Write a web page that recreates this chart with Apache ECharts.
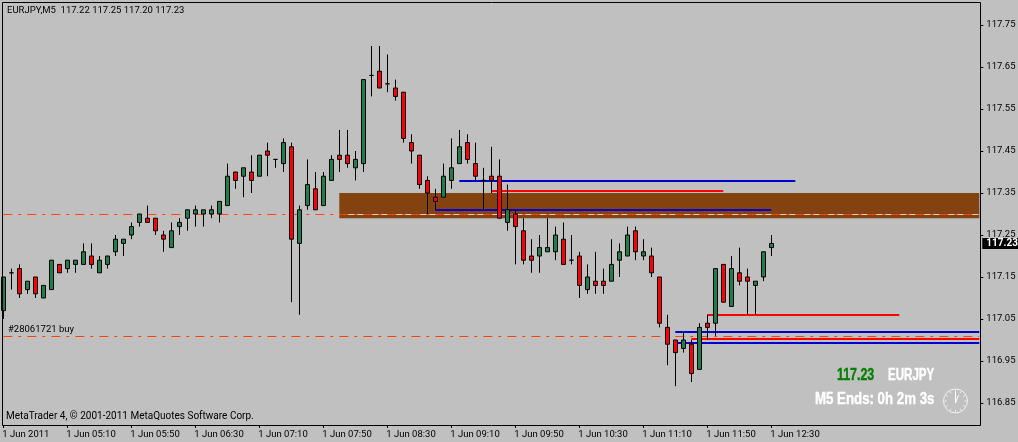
<!DOCTYPE html>
<html>
<head>
<meta charset="utf-8">
<title>EURJPY,M5</title>
<style>
  html, body { margin: 0; padding: 0; background: #c0c0c0; }
  #chart { width: 1018px; height: 442px; }
</style>
<script src="https://cdn.jsdelivr.net/npm/echarts@6/dist/echarts.min.js"></script>
</head>
<body>
<div id="chart"></div>
<script>
// One label every 8 bars, bar 0 is 04:30
const timeLabels = ['1 Jun 2011', '1 Jun 05:10', '1 Jun 05:50', '1 Jun 06:30', '1 Jun 07:10', '1 Jun 07:50', '1 Jun 08:30',
  '1 Jun 09:10', '1 Jun 09:50', '1 Jun 10:30', '1 Jun 11:10', '1 Jun 11:50', '1 Jun 12:30'];
const priceTicks = [117.75, 117.65, 117.55, 117.45, 117.35, 117.25, 117.15, 117.05, 116.95, 116.85];

const opens = [
  117.07, 117.16, 117.17, 117.12, 117.15, 117.10, 117.12, 117.18, 117.17, 117.18,
  117.18, 117.20, 117.16, 117.18, 117.21, 117.23, 117.25, 117.28, 117.29, 117.29,
  117.25, 117.22, 117.27, 117.29, 117.30, 117.30, 117.30, 117.30, 117.32, 117.40,
  117.39, 117.40, 117.39, 117.45, 117.43, 117.42, 117.46, 117.23, 117.32, 117.36,
  117.32, 117.38, 117.44, 117.44, 117.41, 117.42, 117.63, 117.64, 117.61, 117.60,
  117.59, 117.47, 117.44, 117.38, 117.34, 117.34, 117.38, 117.42, 117.47, 117.42,
  117.38, 117.39, 117.39, 117.28, 117.30, 117.26, 117.20, 117.20, 117.21, 117.21,
  117.24, 117.19, 117.20, 117.12, 117.14, 117.14, 117.14, 117.19, 117.20, 117.26,
  117.20, 117.20, 117.15, 117.03, 117.00, 116.98, 116.99, 116.93, 117.04, 117.04,
  117.18, 117.08, 117.16, 117.15, 117.13, 117.15, 117.22];
const closes = [
  117.15, 117.16, 117.11, 117.14, 117.11, 117.13, 117.19, 117.16, 117.19, 117.19,
  117.21, 117.18, 117.19, 117.20, 117.24, 117.24, 117.27, 117.30, 117.28, 117.26,
  117.24, 117.26, 117.28, 117.31, 117.31, 117.31, 117.31, 117.33, 117.39, 117.38,
  117.41, 117.38, 117.44, 117.44, 117.43, 117.47, 117.24, 117.31, 117.37, 117.31,
  117.39, 117.43, 117.43, 117.42, 117.43, 117.62, 117.63, 117.60, 117.61, 117.58,
  117.48, 117.45, 117.37, 117.35, 117.33, 117.39, 117.41, 117.46, 117.43, 117.39,
  117.38, 117.38, 117.29, 117.31, 117.27, 117.19, 117.19, 117.22, 117.22, 117.25,
  117.18, 117.19, 117.13, 117.15, 117.13, 117.13, 117.18, 117.21, 117.25, 117.21,
  117.21, 117.16, 117.04, 116.99, 116.97, 117.00, 116.92, 117.03, 117.03, 117.17,
  117.09, 117.17, 117.14, 117.14, 117.14, 117.21, 117.23];
const highs = [
  117.15, 117.17, 117.18, 117.14, 117.15, 117.13, 117.19, 117.18, 117.19, 117.19,
  117.23, 117.23, 117.20, 117.20, 117.25, 117.24, 117.28, 117.30, 117.32, 117.29,
  117.26, 117.28, 117.29, 117.31, 117.32, 117.31, 117.32, 117.33, 117.42, 117.40,
  117.41, 117.44, 117.44, 117.47, 117.43, 117.48, 117.47, 117.32, 117.43, 117.40,
  117.40, 117.44, 117.50, 117.50, 117.45, 117.62, 117.70, 117.70, 117.68, 117.62,
  117.59, 117.49, 117.44, 117.39, 117.36, 117.42, 117.48, 117.50, 117.49, 117.47,
  117.41, 117.46, 117.43, 117.37, 117.31, 117.29, 117.24, 117.25, 117.29, 117.27,
  117.28, 117.25, 117.21, 117.18, 117.21, 117.17, 117.24, 117.23, 117.27, 117.27,
  117.24, 117.22, 117.15, 117.06, 117.00, 117.02, 117.00, 117.04, 117.06, 117.17,
  117.18, 117.20, 117.22, 117.17, 117.14, 117.21, 117.25];
const lows = [
  117.05, 117.12, 117.10, 117.11, 117.10, 117.10, 117.12, 117.16, 117.16, 117.16,
  117.18, 117.17, 117.16, 117.17, 117.20, 117.20, 117.24, 117.27, 117.28, 117.25,
  117.21, 117.22, 117.25, 117.26, 117.27, 117.27, 117.29, 117.28, 117.32, 117.36,
  117.34, 117.35, 117.39, 117.39, 117.41, 117.40, 117.09, 117.06, 117.31, 117.31,
  117.32, 117.38, 117.40, 117.41, 117.38, 117.40, 117.58, 117.60, 117.59, 117.57,
  117.47, 117.42, 117.36, 117.30, 117.31, 117.34, 117.36, 117.42, 117.42, 117.38,
  117.31, 117.35, 117.29, 117.26, 117.18, 117.18, 117.16, 117.16, 117.21, 117.19,
  117.18, 117.18, 117.10, 117.11, 117.11, 117.11, 117.14, 117.15, 117.20, 117.19,
  117.19, 117.15, 117.03, 116.94, 116.89, 116.97, 116.90, 116.93, 117.00, 117.01,
  117.09, 117.08, 117.13, 117.06, 117.06, 117.14, 117.20];

// Order levels, [first bar, last bar, price]
const blueLevels = [[57, 99, 117.38], [54, 96, 117.31], [84, 122, 117.02], [84, 122, 116.993]];
const redLevels = [[61, 90, 117.355], [88, 112, 117.06], [86, 122, 117.003]];
const tradeLevels = [117.30, 117.01];
const zoneBars = [42, 122];
const zonePrices = [117.35, 117.29];
const lastPrice = 117.23;

// Bars on screen including the empty space on the right
const barCount = 123;
const categories = Array.from({length: barCount}, (_, i) => 'bar' + i);

const LABEL_FONT = 'Roboto, "Liberation Sans", sans-serif';
const BIG_FONT = '"Liberation Sans", sans-serif';

function segment(level, color, width) {
  return [
    {coord: [level[0], level[2]], lineStyle: {color: color, width: width}},
    {coord: [level[1], level[2]]}
  ];
}

/**
 * Clock drawn in the lower right corner.
 */
function clockGraphic(cx, cy, r) {
  const parts = [{
    type: 'circle',
    shape: {cx: cx, cy: cy, r: r},
    style: {fill: 'none', stroke: '#f2f2f2', lineWidth: 1}
  }];
  for (let h = 0; h < 12; h++) {
    const a = h * Math.PI / 6;
    parts.push({
      type: 'line',
      shape: {
        x1: cx + Math.sin(a) * (r - 3), y1: cy - Math.cos(a) * (r - 3),
        x2: cx + Math.sin(a) * (r - 1), y2: cy - Math.cos(a) * (r - 1)
      },
      style: {stroke: '#f2f2f2', lineWidth: 1}
    });
  }
  parts.push({type: 'line', shape: {x1: cx, y1: cy + 2, x2: cx, y2: cy - 9}, style: {stroke: '#ffffff', lineWidth: 1}});
  parts.push({type: 'line', shape: {x1: cx, y1: cy + 2, x2: cx + 3, y2: cy - 6}, style: {stroke: '#ffffff', lineWidth: 1}});
  return parts;
}

function text(x, y, str, color, font, scaleX) {
  const bold = font.indexOf('bold') === 0;
  return {
    type: 'text', x: x, y: y, z: 10, scaleX: scaleX || 1,
    style: {
      text: str, fill: color, font: font, textVerticalAlign: 'middle',
      stroke: bold ? color : null, lineWidth: bold ? 0.4 : 0
    }
  };
}

function renderChart() {
  const chart = echarts.init(document.getElementById('chart'), null, {renderer: 'canvas'});

  const candles = opens.map((o, i) => [o, closes[i], lows[i], highs[i]]);

  const lineData = [
    segment([zoneBars[0], zoneBars[1], tradeLevels[0]], '#d2d2d2', 1)
  ];
  tradeLevels.forEach(p => {
    const seg = segment([0, barCount - 1, p], '#ff4500', 1);
    seg[0].lineStyle.type = [9, 6, 3, 6];
    lineData.push(seg);
  });
  blueLevels.forEach(l => lineData.push(segment(l, '#0000cd', 2)));
  redLevels.forEach(l => lineData.push(segment(l, '#ff0000', 2)));

  const option = {
    backgroundColor: '#c0c0c0',
    animation: false,
    grid: {left: 3.3, right: 38.7, top: 2.5, bottom: 17, outerBoundsMode: 'none'},
    xAxis: {
      type: 'category',
      data: categories,
      boundaryGap: false,
      axisLine: {show: false},
      axisTick: {
        show: true,
        length: 3,
        lineStyle: {color: '#000', width: 1},
        interval: i => i % 8 === 0 && i <= 96
      },
      axisLabel: {
        interval: i => i % 8 === 0 && i <= 96,
        formatter: (v, i) => timeLabels[i / 8],
        align: 'left',
        margin: 5,
        color: '#000',
        fontFamily: LABEL_FONT,
        fontSize: 9.5,
        padding: [0, 0, 0, -1]
      },
      splitLine: {show: false}
    },
    yAxis: {
      type: 'value',
      position: 'right',
      min: 116.7976,
      max: 117.8036,
      offset: 1,
      axisLine: {show: false},
      axisTick: {show: true, length: 3, lineStyle: {color: '#000', width: 1}, customValues: priceTicks},
      axisLabel: {
        customValues: priceTicks,
        formatter: v => v.toFixed(2),
        margin: 6,
        color: '#000',
        fontFamily: LABEL_FONT,
        fontSize: 9.5
      },
      splitLine: {show: false}
    },
    series: [{
      type: 'candlestick',
      data: candles,
      barWidth: 4,
      z: 2,
      clip: true,
      itemStyle: {
        color: '#1f7f4b',
        color0: '#ff0000',
        borderColor: '#000',
        borderColor0: '#000',
        borderColorDoji: '#000',
        borderWidth: 1
      },
      markArea: {
        silent: true,
        z: 0,
        itemStyle: {color: '#844211', opacity: 1},
        data: [[{coord: [zoneBars[0], zonePrices[0]]}, {coord: [zoneBars[1], zonePrices[1]]}]]
      },
      markLine: {
        silent: true,
        z: 1,
        symbol: 'none',
        label: {show: false},
        lineStyle: {type: 'solid'},
        data: lineData.concat([{
          yAxis: lastPrice,
          lineStyle: {color: 'transparent'},
          label: {
            show: true,
            position: 'end',
            distance: 3,
            formatter: lastPrice.toFixed(2),
            color: '#fff',
            fontWeight: 'bold',
            fontFamily: LABEL_FONT,
            fontSize: 10,
            backgroundColor: '#000',
            padding: [1, 5, 0, 4],
            lineHeight: 10
          }
        }])
      }
    }],
    graphic: [
      {
        type: 'rect',
        shape: {x: 2.5, y: 2.5, width: 978, height: 423},
        style: {fill: 'none', stroke: '#000', lineWidth: 1},
        z: 5
      },
      text(7, 11, 'EURJPY,M5  117.22 117.25 117.20 117.23', '#000', '9.5px ' + LABEL_FONT),
      text(8, 330, '#28061721 buy', '#000', '9.5px ' + LABEL_FONT),
      text(6, 416, 'MetaTrader 4, \u00a9 2001-2011 MetaQuotes Software Corp.', '#000', '10px ' + LABEL_FONT),
      text(837, 375, '117.23', '#008000', 'bold 17px ' + BIG_FONT, 0.73),
      text(888, 375, 'EURJPY', '#ffffff', 'bold 17px ' + BIG_FONT, 0.68),
      text(815, 399, 'M5 Ends: 0h 2m 3s', '#ffffff', 'bold 17px ' + BIG_FONT, 0.78)
    ].concat(clockGraphic(955.5, 401, 12))
  };

  chart.setOption(option);
}

renderChart();
</script>
</body>
</html>
